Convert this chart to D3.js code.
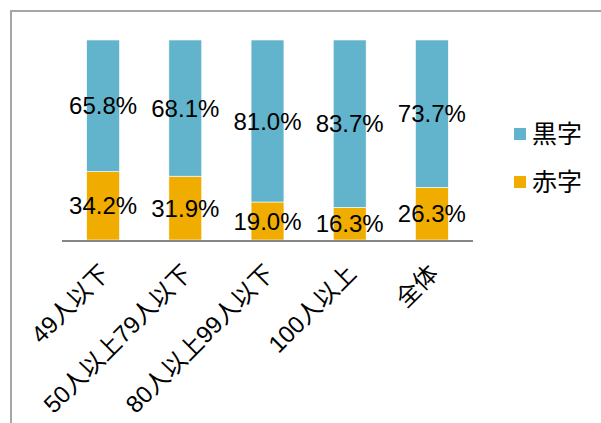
<!DOCTYPE html>
<html>
<head>
<meta charset="utf-8">
<script src="https://cdn.jsdelivr.net/npm/d3@7"></script>
<style>
  html, body { margin: 0; padding: 0; background: #fff; }
  svg { display: block; font-family: "Liberation Sans", Arial, "Noto Sans CJK JP", sans-serif; }
</style>
</head>
<body>
<svg id="chart" width="601" height="423"></svg>
<script>
const categories = ["49人以下", "50人以上79人以下", "80人以上99人以下", "100人以上", "全体"];
const seriesNames = ["黒字", "赤字"];
const surplus = [65.8, 68.1, 81.0, 83.7, 73.7];   // 黒字
const deficit = [34.2, 31.9, 19.0, 16.3, 26.3];   // 赤字
const seriesColors = ["#62B3CC", "#F0AD00"];

const svg = d3.select("#chart");

// outer frame (left and top edges visible)
svg.append("path")
  .attr("d", d3.line()([[11, 423], [11, 11], [601, 11]]))
  .attr("fill", "none")
  .attr("stroke", "#a6a6a6")
  .attr("stroke-width", 2);

const x = d3.scaleBand().domain(categories).range([62, 473]).paddingInner(0.6).paddingOuter(0.3);
const y = d3.scaleLinear().domain([0, 100]).range([240, 40]);

const rows = categories.map((c, i) => ({ cat: c, red: deficit[i], black: surplus[i] }));
const stack = d3.stack().keys(["red", "black"])(rows);
const colorOf = { red: seriesColors[1], black: seriesColors[0] };

const g = svg.append("g");
stack.forEach(layer => {
  g.selectAll(null).data(layer).enter().append("rect")
    .attr("x", d => x(d.data.cat))
    .attr("width", x.bandwidth())
    .attr("y", d => y(d[1]))
    .attr("height", d => y(d[0]) - y(d[1]))
    .attr("fill", colorOf[layer.key])
    .attr("stroke", "#ffffff")
    .attr("stroke-width", 0.6);
});

// value labels
stack.forEach(layer => {
  g.selectAll(null).data(layer).enter().append("text")
    .attr("x", d => x(d.data.cat) + x.bandwidth() / 2)
    .attr("y", d => (y(d[0]) + y(d[1])) / 2)
    .attr("dy", "0.36em")
    .attr("text-anchor", "middle")
    .attr("font-size", 24)
    .attr("fill", "#000")
    .text(d => d.data[layer.key].toFixed(1) + "%");
});

// x axis
const xAxis = d3.axisBottom(x).tickSize(0).tickPadding(0);
const ax = svg.append("g").attr("transform", "translate(0,241)").call(xAxis);
ax.select(".domain").attr("stroke", "#868686").attr("stroke-width", 2).attr("d", "M62,0H473");
ax.selectAll(".tick text")
  .attr("font-family", "\"Liberation Sans\", Arial, \"Noto Sans CJK JP\", sans-serif")
  .attr("font-size", 24)
  .attr("fill", "#000")
  .attr("text-anchor", "end")
  .attr("dy", "0.35em")
  .attr("y", 0)
  .attr("transform", "translate(2,28) rotate(-45)");

// legend
const legend = svg.append("g");
seriesNames.forEach((name, i) => {
  const ly = 134 + i * 48;
  legend.append("rect")
    .attr("x", 514).attr("y", ly - 6).attr("width", 12).attr("height", 12)
    .attr("fill", seriesColors[i]);
  legend.append("text")
    .attr("x", 532).attr("y", ly).attr("dy", "0.36em")
    .attr("font-size", 25).attr("fill", "#000")
    .text(name);
});
</script>
</body>
</html>
